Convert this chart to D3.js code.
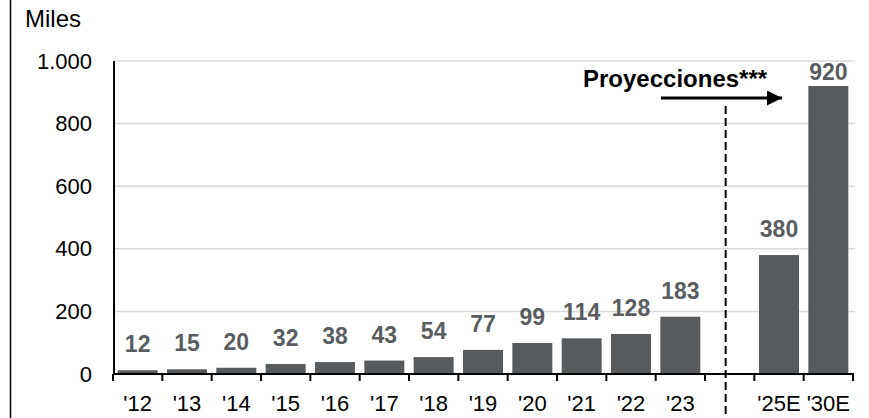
<!DOCTYPE html>
<html>
<head>
<meta charset="utf-8">
<script src="https://cdn.jsdelivr.net/npm/d3@7"></script>
<style>
  body { margin: 0; background: #fff; }
  svg { display: block; font-family: "Liberation Sans", Arial, sans-serif; }
</style>
</head>
<body>
<div id="chart"></div>
<script>
// Data
const years = ["'12", "'13", "'14", "'15", "'16", "'17", "'18", "'19", "'20", "'21", "'22", "'23", "gap", "'25E", "'30E"];
const values = [12, 15, 20, 32, 38, 43, 54, 77, 99, 114, 128, 183, null, 380, 920];
const yTicks = [0, 200, 400, 600, 800, 1000];
const projLabel = "Proyecciones***";
const unitLabel = "Miles";

const data = years.map((y, i) => ({ year: y, value: values[i] }));

const width = 869, height = 418;
const svg = d3.select("#chart").append("svg")
    .attr("width", width)
    .attr("height", height);

const x = d3.scaleBand()
    .domain(years)
    .range([113, 853])
    .paddingInner(0.19)
    .paddingOuter(0.095);

const y = d3.scaleLinear()
    .domain([0, 1000])
    .range([374, 61]);

// frame line on the left
svg.append("line")
    .attr("x1", 10.5).attr("x2", 10.5)
    .attr("y1", 0).attr("y2", height)
    .attr("stroke", "#000")
    .attr("stroke-width", 1.5);

// gridlines
svg.append("g")
    .selectAll("line")
    .data(yTicks.filter(d => d > 0))
    .enter().append("line")
    .attr("x1", 115).attr("x2", 855)
    .attr("y1", d => y(d)).attr("y2", d => y(d))
    .attr("stroke", "#d9d9d9")
    .attr("stroke-width", 1.5);

// y tick labels
svg.append("g")
    .selectAll("text")
    .data(yTicks)
    .enter().append("text")
    .attr("x", 92)
    .attr("y", d => y(d) + 7.5)
    .attr("text-anchor", "end")
    .style("font-size", "22px")
    .text(d => d3.format(",")(d).replace(",", "."));

svg.append("text")
    .attr("x", 25)
    .attr("y", 27)
    .style("font-size", "24px")
    .text(unitLabel);

// bars
const shown = data.filter(d => d.value !== null);
svg.append("g")
    .selectAll("rect")
    .data(shown)
    .enter().append("rect")
    .attr("x", d => x(d.year))
    .attr("y", d => y(d.value))
    .attr("width", x.bandwidth())
    .attr("height", d => y(0) - y(d.value))
    .attr("fill", "#575b5e");

// value labels
svg.append("g")
    .selectAll("text")
    .data(shown)
    .enter().append("text")
    .attr("x", d => x(d.year) + x.bandwidth() / 2)
    .attr("y", d => Math.max(y(d.value) - 18, y(1000) + 19))
    .attr("text-anchor", "middle")
    .style("font-size", "23px")
    .style("font-weight", "bold")
    .attr("fill", "#595d60")
    .text(d => d.value);

// axes lines
svg.append("line")
    .attr("x1", 114).attr("x2", 114)
    .attr("y1", y(1000)).attr("y2", y(0))
    .attr("stroke", "#000").attr("stroke-width", 2);

svg.append("line")
    .attr("x1", 113).attr("x2", 854)
    .attr("y1", y(0)).attr("y2", y(0))
    .attr("stroke", "#000").attr("stroke-width", 2);

// x ticks at band boundaries
const bounds = d3.range(years.length + 1).map(i => 113 + i * (740 / years.length));
svg.append("g")
    .selectAll("line")
    .data(bounds)
    .enter().append("line")
    .attr("x1", d => d).attr("x2", d => d)
    .attr("y1", y(0)).attr("y2", y(0) + 7)
    .attr("stroke", "#000").attr("stroke-width", 2);

// x labels
svg.append("g")
    .selectAll("text")
    .data(shown)
    .enter().append("text")
    .attr("x", d => x(d.year) + x.bandwidth() / 2)
    .attr("y", 411)
    .attr("text-anchor", "middle")
    .style("font-size", "22px")
    .text(d => d.year);

// projection divider
const gapX = x("gap") + x.bandwidth() / 2 - 4;
svg.append("line")
    .attr("x1", gapX).attr("x2", gapX)
    .attr("y1", 106).attr("y2", height)
    .attr("stroke", "#000")
    .attr("stroke-width", 2)
    .attr("stroke-dasharray", "8,4");

svg.append("defs").append("marker")
    .attr("id", "arrow")
    .attr("viewBox", "0 0 10 10")
    .attr("refX", 10).attr("refY", 5)
    .attr("markerWidth", 5).attr("markerHeight", 5)
    .attr("orient", "auto")
    .append("path")
    .attr("d", "M0,0L10,5L0,10z")
    .attr("fill", "#000");

svg.append("line")
    .attr("x1", 661).attr("x2", 782)
    .attr("y1", 98).attr("y2", 98)
    .attr("stroke", "#000")
    .attr("stroke-width", 3)
    .attr("marker-end", "url(#arrow)");

svg.append("text")
    .attr("x", 583)
    .attr("y", 87)
    .style("font-size", "24px")
    .style("font-weight", "bold")
    .text(projLabel);
</script>
</body>
</html>
